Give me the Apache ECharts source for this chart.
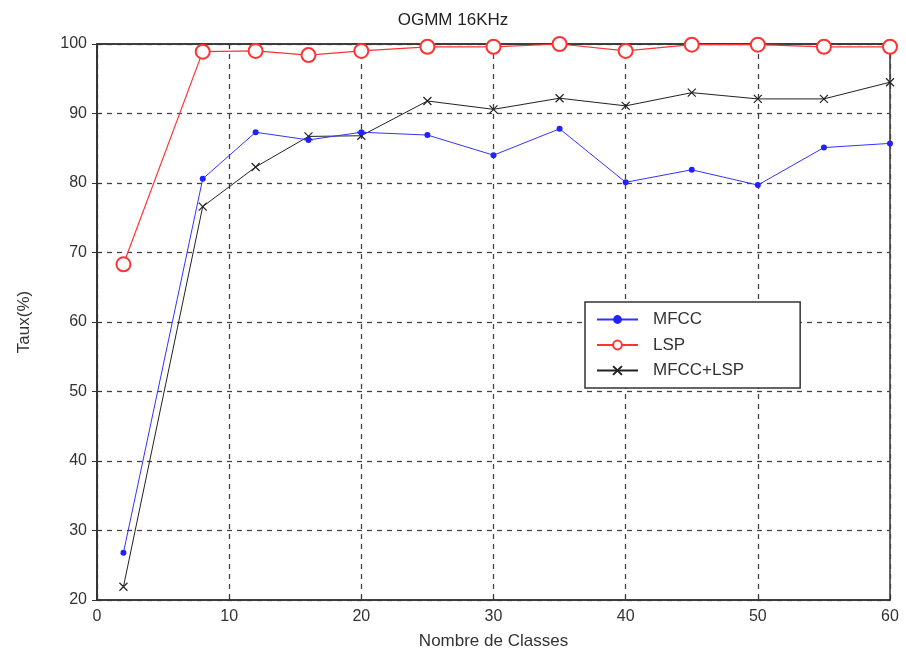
<!DOCTYPE html>
<html><head><meta charset="utf-8">
<script src="https://cdn.jsdelivr.net/npm/echarts@6/dist/echarts.min.js"></script>
<style>html,body{margin:0;padding:0;background:#fff}#c{width:906px;height:658px}</style>
</head><body><div id="c"></div>
<script>
const xs = [2, 8, 12, 16, 20, 25, 30, 35, 40, 45, 50, 55, 60];
const mfcc = [26.8, 80.6, 87.3, 86.2, 87.3, 86.9, 84.0, 87.8, 80.1, 81.9, 79.7, 85.1, 85.7];
const lsp = [68.3, 98.9, 99.0, 98.4, 99.0, 99.6, 99.6, 100.0, 99.0, 99.9, 99.9, 99.6, 99.6];
const both = [21.9, 76.6, 82.3, 86.7, 86.8, 91.8, 90.6, 92.2, 91.1, 93.0, 92.1, 92.1, 94.5];
const names = ['MFCC', 'LSP', 'MFCC+LSP'];
const pair = arr => xs.map((x, i) => [x, arr[i]]);
const font = 'Liberation Sans, Arial, sans-serif';
const cross = 'path://M0,0L10,10M10,0L0,10';
const chart = echarts.init(document.getElementById('c'));
const axisCommon = {
  axisLine: {show: true, lineStyle: {color: '#333', width: 1.5}},
  axisTick: {show: true, inside: true, length: 5, lineStyle: {color: '#333'}},
  axisLabel: {color: '#333', fontSize: 16, fontFamily: font},
  splitLine: {show: true, lineStyle: {color: '#444', type: [5, 5], width: 1.3}},
  nameTextStyle: {color: '#333', fontSize: 17, fontFamily: font}
};
const mirror = {
  axisLine: {show: true, lineStyle: {color: '#333', width: 1.5}},
  axisTick: {show: true, inside: true, length: 5, lineStyle: {color: '#333'}},
  axisLabel: {show: false}, splitLine: {show: false}
};
chart.setOption({
  animation: false,
  backgroundColor: '#fff',
  title: {text: 'OGMM 16KHz', left: 'center', top: 7, textStyle: {fontSize: 17, fontWeight: 'normal', color: '#222', fontFamily: font}},
  grid: {left: 97, right: 16, top: 44, bottom: 58, show: true, borderColor: '#333', borderWidth: 1.5},
  xAxis: [
    Object.assign({}, axisCommon, {type: 'value', min: 0, max: 60, interval: 10,
      name: 'Nombre de Classes', nameLocation: 'middle', nameGap: 33,
      axisLabel: Object.assign({}, axisCommon.axisLabel, {margin: 9})}),
    Object.assign({}, mirror, {type: 'value', position: 'top', min: 0, max: 60, interval: 10})
  ],
  yAxis: [
    Object.assign({}, axisCommon, {type: 'value', min: 20, max: 100, interval: 10,
      name: 'Taux(%)', nameLocation: 'middle', nameGap: 64,
      axisLabel: Object.assign({}, axisCommon.axisLabel, {margin: 10})}),
    Object.assign({}, mirror, {type: 'value', position: 'right', min: 20, max: 100, interval: 10})
  ],
  legend: {
    orient: 'vertical', left: 585, top: 302,
    padding: [9, 56, 9, 11], itemGap: 8.5, itemWidth: 41, itemHeight: 11,
    borderColor: '#333', borderWidth: 1.5, backgroundColor: '#fff',
    textStyle: {fontSize: 17, color: '#333', fontFamily: font, padding: [0, 0, 0, 10]},
    data: names
  },
  series: [
    {name: names[0], type: 'line', data: pair(mfcc), symbol: 'circle', symbolSize: 6,
      lineStyle: {color: '#3333ff', width: 1}, itemStyle: {color: '#2222ff'}, z: 3},
    {name: names[1], type: 'line', data: pair(lsp), symbol: 'emptyCircle', symbolSize: 14,
      lineStyle: {color: '#ff3333', width: 1.2}, itemStyle: {color: '#ff3333', borderColor: '#ff3333', borderWidth: 1.2}, z: 4},
    {name: names[2], type: 'line', data: pair(both), symbol: cross, symbolSize: 8,
      lineStyle: {color: '#222', width: 1}, itemStyle: {color: 'none', borderColor: '#222', borderWidth: 1.2}, z: 2}
  ]
});
</script></body></html>
